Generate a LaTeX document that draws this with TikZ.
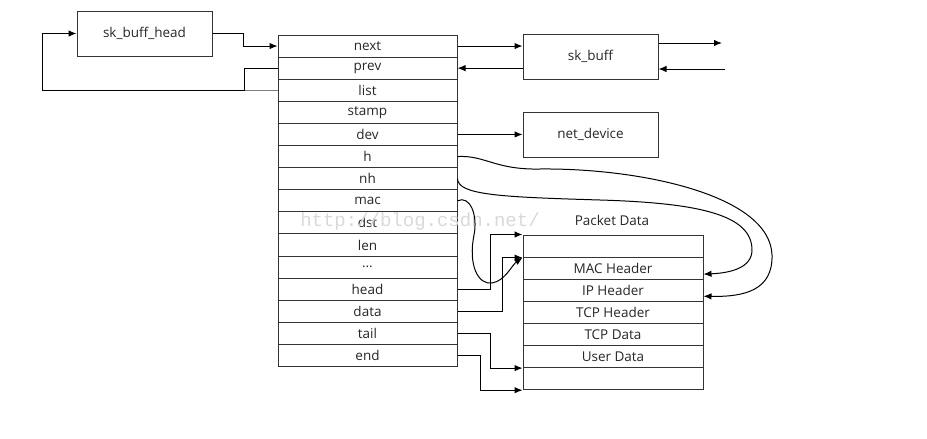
\documentclass[tikz,border=0pt]{standalone}
\usepackage{fontspec}
\setmainfont{Open Sans}
\newfontfamily\markfont{Liberation Mono}
\usetikzlibrary{arrows.meta}

\begin{document}
\begin{tikzpicture}[x=1pt, y=-1pt, line width=1pt, >={Latex[length=8pt,width=6.5pt]},
    box/.style={draw=black!80, text=black!85, minimum width=135pt, minimum height=45pt, inner sep=0pt, font=\fontsize{13.5}{15}\selectfont},
    field/.style={draw=black!80, text=black!85, minimum width=179pt, minimum height=22.1pt, inner sep=0pt, font=\fontsize{13.5}{15}\selectfont},
    pkt/.style={field, minimum width=180pt}]
    \useasboundingbox (0,0) rectangle (927,439);

    \node[box] (skhead) at (144.5, 33.5) {sk\_buff\_head};
    \node[box] (skbuff) at (590.5, 56.5) {sk\_buff};
    \node[box] (netdev) at (590.5, 134.5) {net\_device};

    % struct sk_buff fields
    \foreach \lbl [count=\i from 0] in {next,prev,list,stamp,dev,h,nh,mac,dst,len,\dots,head,data,tail,end}
        \node[field] (f\i) at (367.5, 46.05+22.1*\i) {\lbl};

    % packet buffer
    \foreach \lbl [count=\i from 0] in {{},MAC Header,IP Header,TCP Header,TCP Data,User Data,{}}
        \node[pkt] (p\i) at (613, 246.05+22.1*\i) {\lbl};
    \node[text=black!85, font=\fontsize{13.5}{15}\selectfont] (pktlabel) at (612, 220) {Packet Data};

    \node[text=black!15, font=\markfont\fontsize{19}{19}\selectfont] (mark) at (420, 222) {http://blog.csdn.net/};

    \coordinate (nextout) at (722, 43);
    \coordinate (previn) at (725, 69);

    \draw[->] (skhead.east) -- ++(31,0) |- (f0.west);
    \draw[->] (f1.west) -- ++(-33,0) |- ([xshift=-235pt]f2.west) |- (skhead.west);
    \draw[black!50] (f2.west) -- ++(-33,0);

    \draw[->] (f0.east) -- (f0.east -| skbuff.west);
    \draw[->] (f1.east -| skbuff.west) -- (f1.east);
    \draw[->] (nextout -| skbuff.east) -- (nextout);
    \draw[->] (previn) -- (previn -| skbuff.east);
    \draw[->] (f4.east) -- (f4.east -| netdev.west);

    \draw[->] (f5.east) .. controls (485,155) and (495,170) .. (540,169) .. controls (640,168) and (770,195) .. (772,255) .. controls (773,290) and (745,297) .. ([yshift=-6pt]p2.east);
    \draw[->] (f6.east) .. controls (458,195) and (500,197) .. (600,200) .. controls (700,203) and (752,215) .. (752,250) .. controls (752,268) and (730,273) .. ([yshift=-6pt]p1.east);
    \draw[->] (f7.east) .. controls (470,195) and (478,215) .. (474,235) .. controls (468,265) and (478,285) .. (492,283) .. controls (505,281) and (512,265) .. (p0.south west);

    \draw[->] (f11.east) -- ++(33,0) |- (p0.north west);
    \draw[->] (f12.east) -- ++(45,0) |- (p0.south west);
    \draw[->] (f13.east) -- ++(33,0) |- (p5.south west);
    \draw[->] (f14.east) -- ++(23,0) |- (p6.south west);
\end{tikzpicture}
\end{document}
